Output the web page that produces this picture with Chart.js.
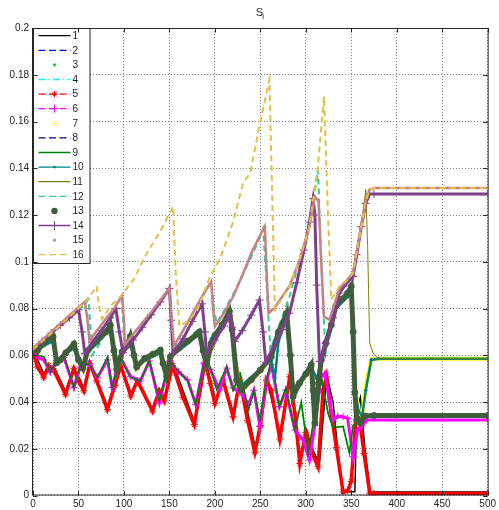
<!DOCTYPE html>
<html>
<head>
<meta charset="utf-8">
<title>S_i</title>
<script src="https://cdn.jsdelivr.net/npm/chart.js@4.4.1/dist/chart.umd.min.js"></script>
<style>
  html, body { margin: 0; padding: 0; background: #fff; }
  canvas { display: block; }
</style>
</head>
<body>
<canvas id="chart" width="499" height="510"></canvas>
<script>
// S_i — 16 series as [t, value] breakpoints.

const seriesNames = ["1", "2", "3", "4", "5", "6", "7", "8", "9", "10", "11", "12", "13", "14", "15", "16"];
const xTicks = [0, 50, 100, 150, 200, 250, 300, 350, 400, 450, 500];
const yTicks = [0, 0.02, 0.04, 0.06, 0.08, 0.1, 0.12, 0.14, 0.16, 0.18, 0.2];

const s1 = [[0,0.0625],[12,0.052],[23,0.055],[36,0.0445],[45,0.055],[56,0.046],[63,0.057],[82,0.038],[96,0.0565],[108,0.0435],[115,0.05],[131,0.037],[139,0.0455],[145,0.0415],[154,0.0565],[178,0.031],[190,0.0575],[201,0.0405],[209,0.05],[221,0.0345],[228,0.05],[245,0.0195],[257,0.05],[272,0.025],[283,0.051],[294,0.015],[301,0.028],[306,0.021],[315,0.0135],[323,0.0515],[330,0.04],[335,0.02],[341,0.0016],[354,0.0016],[356,0.037],[360,0.042],[365,0.02],[371,0.0015],[500,0.0015]];
const s2 = [[0,0.0625],[6,0.0585],[12,0.058],[19,0.053],[26,0.0575],[34,0.059],[45,0.0465],[52,0.055],[61,0.056],[71,0.051],[82,0.058],[87,0.0465],[96,0.059],[107,0.051],[118,0.0492],[128,0.0575],[139,0.04],[150,0.0575],[160,0.053],[170,0.0495],[179,0.0392],[188,0.0565],[195,0.054],[205,0.0455],[213,0.0545],[220,0.046],[231,0.0432],[237,0.0392],[243,0.045],[249.5,0.0298],[257,0.049],[262,0.0558],[271,0.0382],[278,0.045],[288,0.0282],[297,0.024],[304,0.0155],[310,0.03],[317,0.0508],[321,0.052],[326,0.04],[330,0.0325],[341,0.0338],[346,0.033],[352,0.017],[357,0.028],[362,0.03],[367,0.0322],[500,0.0322]];
const s3 = [[0,0.0625],[6,0.0598],[12,0.0592],[19,0.0528],[26,0.0577],[34,0.0598],[45,0.0463],[52,0.0555],[61,0.0563],[71,0.0507],[82,0.0592],[87,0.0463],[96,0.0592],[107,0.0507],[118,0.0491],[128,0.0577],[139,0.0405],[150,0.0577],[159,0.0535],[170,0.0491],[179,0.0391],[188,0.0563],[195,0.0549],[202,0.0453],[213,0.055],[220,0.0451],[228,0.0519],[237,0.0367],[243,0.0449],[249.5,0.0324],[257,0.0493],[262,0.0579],[271,0.0381],[278,0.0459],[288,0.0281],[295,0.0399],[302.6,0.0181],[310,0.0349],[317,0.0507],[324.5,0.0353],[330,0.0291],[341,0.0296],[348,0.0181],[352,0.0299],[357.5,0.0309],[362,0.0329],[368,0.0341],[500,0.0341]];
const s4 = [[0,0.0625],[12,0.0638],[22,0.0658],[26,0.0582],[45,0.0628],[50,0.0582],[55,0.0562],[60,0.0608],[85,0.0708],[92,0.0562],[107,0.0658],[114,0.0562],[140,0.0608],[147,0.0522],[151,0.0588],[183,0.0688],[187,0.0632],[191,0.0582],[196,0.0668],[216,0.0768],[224,0.0522],[229,0.0472],[250,0.0538],[262,0.0578],[266,0.0502],[270,0.0658],[279,0.0758],[285,0.0452],[293,0.0488],[306,0.0548],[312,0.0502],[317,0.0568],[322,0.0638],[333,0.0798],[346,0.0848],[350,0.0878],[354,0.0452],[358,0.0362],[362,0.0342],[366,0.0452],[372,0.0582],[380,0.0585],[500,0.0585]];
const s5 = [[0,0.0614],[5,0.055],[11.8,0.0506],[17,0.0556],[23,0.0534],[35.7,0.0433],[44.9,0.0542],[50,0.049],[55.9,0.0448],[62.6,0.0564],[70,0.049],[81.7,0.0368],[90,0.047],[96.4,0.0556],[107.5,0.0426],[114.8,0.0491],[131.4,0.0361],[138.7,0.0448],[144.3,0.0404],[153.5,0.0556],[165,0.042],[177.4,0.0303],[189,0.057],[195,0.048],[200,0.0394],[209,0.0494],[220,0.0337],[227.5,0.0494],[236,0.032],[244,0.0185],[250,0.03],[256.8,0.0494],[262,0.045],[271.4,0.0242],[282.4,0.0508],[288,0.035],[293.4,0.0137],[300,0.027],[305,0.02],[313.5,0.0123],[319,0.045],[322.7,0.0508],[328,0.035],[333.6,0.0205],[341,0.0015],[346,0.002],[350,0.006],[355.6,0.0366],[359,0.033],[364,0.018],[370.3,0.001],[375,0.0009],[500,0.0009]];
const s6 = [[0,0.0625],[6,0.059],[12,0.058],[19,0.0527],[26,0.0578],[34,0.059],[45,0.0462],[52,0.055],[61,0.0564],[71,0.0506],[82,0.058],[87,0.0462],[96,0.0593],[107,0.051],[118,0.049],[128,0.0575],[139,0.0397],[150,0.0575],[160,0.053],[170,0.0495],[179,0.039],[188,0.0565],[195,0.054],[205,0.0452],[213,0.0545],[220,0.046],[231,0.043],[237,0.039],[243,0.045],[249.5,0.0295],[257,0.049],[262,0.056],[271,0.038],[278,0.045],[288,0.028],[297,0.0238],[304,0.0152],[310,0.03],[317,0.051],[321,0.0523],[326,0.04],[330,0.0323],[335,0.034],[341,0.0337],[346,0.033],[352,0.0166],[357,0.028],[362,0.03],[367,0.0323],[500,0.0323]];
const s7 = [[0,0.0625],[5,0.0615],[12,0.065],[22,0.0675],[26,0.0563],[30,0.0575],[36,0.0605],[45,0.0643],[50,0.0575],[55,0.054],[60,0.0615],[70,0.0655],[80,0.0695],[85,0.0723],[89,0.0615],[92,0.0535],[98,0.061],[103,0.0635],[107,0.0675],[111,0.0595],[114,0.0545],[123,0.0582],[132,0.06],[140,0.0617],[143,0.056],[147,0.0505],[151,0.0589],[160,0.0625],[170,0.0655],[180,0.0685],[183,0.0695],[187,0.0615],[191,0.0555],[196,0.0645],[200,0.068],[208,0.0725],[216,0.0782],[219,0.0705],[224,0.0489],[229,0.0446],[240,0.049],[250,0.0532],[262,0.0589],[270,0.0695],[279,0.0775],[283,0.0595],[286,0.0418],[293,0.0475],[300,0.0515],[306,0.0554],[308,0.0445],[310,0.0305],[314,0.0475],[317,0.0575],[322,0.0647],[328,0.0725],[333,0.0805],[340,0.0835],[346,0.0861],[350,0.0889],[354,0.046],[358,0.036],[362,0.034],[366,0.047],[372,0.0583],[380,0.0585],[500,0.0585]];
const s8 = [[0,0.0625],[5,0.062],[12,0.0655],[22,0.068],[26,0.0568],[30,0.058],[36,0.061],[45,0.0648],[50,0.058],[55,0.0545],[60,0.062],[70,0.066],[80,0.07],[85,0.0728],[89,0.062],[92,0.054],[98,0.0615],[103,0.064],[107,0.068],[111,0.06],[114,0.055],[123,0.0587],[132,0.0605],[140,0.0622],[143,0.0565],[147,0.051],[151,0.0594],[160,0.063],[170,0.066],[180,0.069],[183,0.07],[187,0.062],[191,0.056],[196,0.065],[200,0.0685],[208,0.073],[216,0.0787],[219,0.071],[224,0.0494],[229,0.0451],[240,0.0495],[250,0.0537],[262,0.0594],[270,0.07],[279,0.078],[283,0.06],[286,0.0423],[293,0.048],[300,0.052],[306,0.0559],[308,0.045],[310,0.031],[314,0.048],[317,0.058],[322,0.0652],[328,0.073],[333,0.081],[340,0.084],[346,0.0866],[350,0.0894],[352,0.07],[354,0.044],[356,0.0324],[360,0.031],[365,0.034],[375,0.0342],[500,0.0342]];
const s9 = [[0,0.0625],[6,0.06],[12,0.0593],[19,0.0527],[26,0.0578],[34,0.06],[45,0.0462],[52,0.0556],[61,0.0564],[71,0.0506],[82,0.0593],[87,0.0462],[96,0.0593],[107,0.0506],[118,0.049],[128,0.0578],[139,0.0404],[150,0.0578],[159,0.0535],[170,0.049],[179,0.039],[188,0.0564],[195,0.055],[202,0.0452],[213,0.0551],[220,0.045],[228,0.052],[237,0.0366],[243,0.045],[249.5,0.0323],[257,0.0494],[262,0.058],[271,0.038],[278,0.046],[288,0.028],[295,0.04],[302.6,0.018],[310,0.035],[317,0.0508],[324.5,0.0352],[330,0.029],[341,0.0295],[348,0.018],[352,0.03],[357.5,0.031],[362,0.033],[368,0.034],[500,0.0342]];
const s10 = [[0,0.0625],[12,0.064],[22,0.066],[26,0.058],[45,0.063],[50,0.058],[55,0.056],[60,0.061],[85,0.071],[92,0.056],[107,0.066],[114,0.056],[140,0.061],[147,0.052],[151,0.059],[183,0.069],[187,0.063],[191,0.058],[196,0.067],[216,0.077],[224,0.052],[229,0.047],[250,0.054],[262,0.058],[266,0.05],[270,0.066],[279,0.076],[285,0.045],[293,0.049],[306,0.055],[312,0.05],[317,0.057],[322,0.064],[333,0.08],[346,0.085],[350,0.088],[354,0.045],[358,0.036],[362,0.034],[366,0.045],[372,0.058],[380,0.0585],[500,0.0585]];
const s11 = [[0,0.0625],[22,0.067],[26,0.057],[45,0.064],[55,0.055],[60,0.061],[85,0.072],[92,0.055],[107,0.067],[114,0.055],[140,0.062],[147,0.052],[151,0.059],[183,0.07],[191,0.057],[216,0.078],[229,0.046],[262,0.059],[279,0.077],[286,0.043],[306,0.055],[310,0.04],[317,0.057],[322,0.065],[337,0.0866],[352,0.0937],[361,0.115],[366,0.131],[368,0.1065],[370.3,0.0652],[374,0.0609],[380,0.0585],[500,0.0585]];
const s12 = [[0,0.0625],[20,0.069],[40,0.076],[55,0.081],[61,0.084],[63,0.072],[65,0.06],[75,0.066],[85,0.0745],[97,0.0857],[99,0.075],[101,0.063],[110,0.069],[120,0.0738],[130,0.0785],[140,0.0835],[150,0.0886],[152,0.075],[154,0.0622],[165,0.0705],[175,0.0775],[185,0.0845],[196,0.0915],[199,0.08],[202,0.0737],[210,0.079],[220,0.086],[230,0.094],[240,0.102],[248,0.109],[253,0.114],[257,0.09],[261,0.0623],[270,0.072],[282,0.085],[293,0.1005],[304,0.115],[308,0.126],[313.5,0.1393],[316,0.11],[319,0.08],[322,0.061],[328,0.072],[333,0.0805],[340,0.0835],[346,0.086],[350,0.0889],[352,0.07],[354,0.044],[356,0.0325],[360,0.031],[365,0.034],[375,0.0341],[500,0.0341]];
const s13 = [[0,0.0625],[5,0.062],[12,0.0655],[22,0.068],[26,0.0568],[30,0.058],[36,0.061],[45,0.0648],[50,0.058],[55,0.0545],[60,0.062],[70,0.066],[80,0.07],[85,0.0728],[89,0.062],[92,0.054],[98,0.0615],[103,0.064],[107,0.068],[111,0.06],[114,0.055],[123,0.0587],[132,0.0605],[140,0.0622],[143,0.0565],[147,0.051],[151,0.0594],[160,0.063],[170,0.066],[180,0.069],[183,0.07],[187,0.062],[191,0.056],[196,0.065],[200,0.0685],[208,0.073],[216,0.0787],[219,0.071],[224,0.0494],[229,0.0451],[240,0.0495],[250,0.0537],[262,0.0594],[270,0.07],[279,0.078],[283,0.06],[286,0.0423],[293,0.048],[300,0.052],[306,0.0559],[308,0.045],[310,0.031],[314,0.048],[317,0.058],[322,0.0652],[328,0.073],[333,0.081],[340,0.084],[346,0.0866],[350,0.0894],[352,0.07],[354,0.044],[356,0.0324],[360,0.031],[365,0.034],[375,0.0342],[500,0.0342]];
const s14 = [[0,0.0626],[10,0.066],[20,0.0695],[30,0.0728],[40,0.076],[50,0.0794],[54,0.07],[57,0.0608],[65,0.0655],[75,0.0705],[85,0.076],[91,0.08],[95,0.07],[99,0.061],[110,0.0665],[120,0.0718],[130,0.0773],[140,0.0828],[150,0.0886],[152,0.075],[154,0.0608],[165,0.067],[175,0.0745],[186,0.082],[189,0.07],[191,0.061],[200,0.0665],[210,0.0725],[216,0.077],[219,0.072],[222,0.066],[230,0.0705],[240,0.0772],[249,0.0836],[253,0.07],[256,0.057],[265,0.064],[274,0.071],[282,0.078],[290,0.091],[298,0.105],[304,0.117],[308,0.127],[310,0.12],[312,0.09],[315,0.0574],[318,0.06],[322,0.0652],[330,0.076],[337,0.0866],[345,0.091],[352,0.0937],[356,0.103],[361,0.115],[366,0.125],[370,0.129],[375,0.129],[500,0.129]];
const s15 = [[0,0.063],[10,0.0665],[20,0.07],[30,0.0735],[40,0.077],[50,0.0805],[57,0.083],[60,0.075],[62,0.066],[70,0.0705],[80,0.0755],[90,0.0805],[98,0.0857],[100,0.075],[101,0.0645],[110,0.069],[120,0.0738],[130,0.0785],[140,0.0835],[150,0.0886],[152,0.078],[155,0.064],[165,0.0705],[175,0.0775],[185,0.0845],[196,0.0915],[198,0.08],[200,0.0723],[210,0.078],[220,0.085],[230,0.094],[240,0.1035],[248,0.11],[255,0.1151],[257,0.095],[259,0.078],[266,0.0805],[274,0.085],[282,0.0895],[293,0.1005],[304,0.115],[310,0.1279],[314,0.126],[317,0.1],[320,0.0765],[326,0.0752],[337,0.0885],[345,0.092],[352,0.0955],[361,0.1155],[366,0.126],[370,0.1308],[375,0.1315],[500,0.1315]];
const s16 = [[0,0.0625],[25,0.071],[50,0.08],[62,0.085],[70,0.0895],[73,0.08],[76,0.0755],[85,0.081],[96,0.085],[111,0.0926],[125,0.1036],[140,0.113],[154,0.1236],[157,0.095],[161,0.0725],[170,0.0745],[180,0.0787],[194,0.093],[206,0.1015],[220,0.117],[231,0.1336],[239,0.138],[249,0.158],[260,0.178],[263,0.13],[266,0.0795],[274,0.0845],[282,0.0894],[293,0.1008],[304,0.115],[308,0.1265],[313,0.1393],[320,0.1707],[324,0.125],[328,0.0837],[337,0.0894],[345,0.092],[352,0.0951],[361,0.115],[366,0.126],[370,0.1308],[375,0.1315],[500,0.1315]];

const allSeries = [s1, s2, s3, s4, s5, s6, s7, s8, s9, s10, s11, s12, s13, s14, s15, s16];

const FONT = '"Liberation Sans", Arial, Helvetica, sans-serif';
const INK = "#262626";

// how each series is drawn in the plot, and how its legend sample looks
const styles = [
  { color: "#000000", width: 1.5, lg: { dash: [] } },
  { color: "#0000ff", width: 1, dash: [6, 4], lg: { dash: [7, 3.5] } },
  { color: "#00e000", width: 1.5, lg: { line: false, marker: "circle", r: 1.6 } },
  { color: "#00ffff", width: 1, dash: [7, 3, 2, 3], lg: { dash: [7, 3, 1.5, 3] } },
  { color: "#ff0000", width: 3.5, marker: "star", r: 3.5, lg: { dash: [7, 3.5], marker: "star", r: 3 } },
  { color: "#ff00ff", width: 3, marker: "cross", r: 3.5, lg: { dash: [7, 3.5], marker: "cross", r: 4 } },
  { color: "#ffff00", width: 4, lg: { line: false, marker: "crossRot", r: 3 } },
  { color: "#00007f", width: 1, dash: [6, 4], lg: { dash: [7, 3.5] } },
  { color: "#008000", width: 1.5, lg: { dash: [] } },
  { color: "#008080", width: 2.5, marker: "circle", r: 1.3, lg: { dash: [], marker: "circle", r: 1.3 } },
  { color: "#808000", width: 1, lg: { dash: [] } },
  { color: "#33cc99", width: 2, dash: [6, 4], lg: { dash: [7, 3.5] } },
  { color: "#3f5f3c", width: 5, marker: "circle", r: 3, lg: { line: false, marker: "circle", r: 3.2 } },
  { color: "#7e3f8c", width: 3, marker: "cross", r: 4, lg: { dash: [], marker: "cross", r: 4.5 } },
  { color: "#c48383", width: 2.5, lg: { line: false, marker: "circle", r: 1.6 } },
  { color: "#e5bf45", width: 2, dash: [6, 4], lg: { dash: [7, 3.5] } },
];

const datasets = allSeries.map((pts, i) => {
  const st = styles[i];
  return {
    label: seriesNames[i],
    data: pts.map(([x, y]) => ({ x, y })),
    borderColor: st.color,
    backgroundColor: st.color,
    borderWidth: st.width,
    borderDash: st.dash || [],
    pointStyle: st.marker || "circle",
    pointRadius: st.marker ? st.r : 0,
    pointBorderWidth: 1,
    pointBorderColor: st.color,
    pointBackgroundColor: st.color,
    tension: 0,
    fill: false,
    order: allSeries.length - i, // later series on top, as in the original
  };
});

function drawMarker(ctx, kind, x, y, r, color) {
  ctx.save();
  ctx.strokeStyle = color;
  ctx.fillStyle = color;
  ctx.lineWidth = 1;
  ctx.setLineDash([]);
  ctx.beginPath();
  if (kind === "circle") {
    ctx.arc(x, y, r, 0, Math.PI * 2);
    ctx.fill();
  } else {
    if (kind === "cross" || kind === "star") {
      ctx.moveTo(x - r, y); ctx.lineTo(x + r, y);
      ctx.moveTo(x, y - r); ctx.lineTo(x, y + r);
    }
    if (kind === "crossRot" || kind === "star") {
      const d = r * 0.75;
      ctx.moveTo(x - d, y - d); ctx.lineTo(x + d, y + d);
      ctx.moveTo(x - d, y + d); ctx.lineTo(x + d, y - d);
    }
    ctx.stroke();
  }
  ctx.restore();
}

const background = {
  id: "background",
  beforeDraw(chart) {
    const { ctx, width, height } = chart;
    ctx.save();
    ctx.fillStyle = "#fff";
    ctx.fillRect(0, 0, width, height);
    ctx.restore();
  },
};

// legend box in the upper left corner, inside the axes
const legendBox = {
  id: "legendBox",
  afterDatasetsDraw(chart) {
    const { ctx, chartArea: a } = chart;
    const w = 56.5, h = 235, row = 14.6;
    ctx.save();
    ctx.fillStyle = "#fff";
    ctx.fillRect(a.left, a.top, w, h);
    ctx.strokeStyle = INK;
    ctx.lineWidth = 1;
    ctx.strokeRect(a.left + 0.5, a.top + 0.5, w, h);
    ctx.font = `10px ${FONT}`;
    ctx.textBaseline = "middle";
    ctx.textAlign = "left";
    chart.data.datasets.forEach((ds, i) => {
      const lg = styles[i].lg;
      const y = a.top + 7.7 + i * row;
      const x0 = a.left + 5.5, x1 = a.left + 37.5, xm = (x0 + x1) / 2;
      if (lg.line !== false) {
        ctx.strokeStyle = ds.borderColor;
        ctx.lineWidth = i === 13 ? 1.5 : 1.3;
        ctx.setLineDash(lg.dash || []);
        ctx.beginPath();
        ctx.moveTo(x0, y);
        ctx.lineTo(x1, y);
        ctx.stroke();
        ctx.setLineDash([]);
      }
      if (lg.marker) drawMarker(ctx, lg.marker, xm, y, lg.r, ds.borderColor);
      ctx.fillStyle = INK;
      ctx.fillText(ds.label, a.left + 39.5, y + 0.5);
    });
    ctx.restore();
  },
};

// axes box, inner tick marks and the S_i title
const frame = {
  id: "frame",
  afterDraw(chart) {
    const { ctx, chartArea: a, scales } = chart;
    ctx.save();
    ctx.strokeStyle = INK;
    ctx.lineWidth = 1;
    ctx.strokeRect(a.left - 0.5, a.top + 0.5, a.right - a.left + 1, a.bottom - a.top - 1);
    const t = 4.5;
    ctx.beginPath();
    xTicks.forEach((v) => {
      const x = Math.round(scales.x.getPixelForValue(v)) + 0.5;
      ctx.moveTo(x, a.bottom); ctx.lineTo(x, a.bottom - t);
      ctx.moveTo(x, a.top); ctx.lineTo(x, a.top + t);
    });
    yTicks.forEach((v) => {
      const y = Math.round(scales.y.getPixelForValue(v)) + 0.5;
      ctx.moveTo(a.left, y); ctx.lineTo(a.left + t, y);
      ctx.moveTo(a.right, y); ctx.lineTo(a.right - t, y);
    });
    ctx.stroke();

    const cx = (a.left + a.right) / 2;
    ctx.fillStyle = INK;
    ctx.textBaseline = "alphabetic";
    ctx.textAlign = "left";
    ctx.font = `11px ${FONT}`;
    ctx.fillText("S", cx - 4.5, 15.5);
    ctx.font = `8px ${FONT}`;
    ctx.fillText("i", cx + 2, 18.5);
    ctx.restore();
  },
};

const tickFont = { family: FONT, size: 10 };

new Chart(document.getElementById("chart"), {
  type: "line",
  data: { datasets },
  options: {
    responsive: false,
    animation: false,
    layout: { padding: { left: 0, top: 28, right: 11, bottom: 0 } },
    plugins: { legend: { display: false }, tooltip: { enabled: false }, title: { display: false } },
    scales: {
      x: {
        type: "linear",
        min: 0,
        max: 500,
        afterBuildTicks: (s) => { s.ticks = xTicks.map((value) => ({ value })); },
        afterFit: (s) => { s.height = 14.5; },
        ticks: { font: tickFont, color: INK, padding: 3, maxRotation: 0, autoSkip: false, callback: (v) => String(v) },
        grid: { color: "rgba(0,0,0,0.45)", lineWidth: 1, drawTicks: false },
        border: { display: false, dash: [1, 2] },
      },
      y: {
        type: "linear",
        min: 0,
        max: 0.2,
        afterBuildTicks: (s) => { s.ticks = yTicks.map((value) => ({ value })); },
        afterFit: (s) => { s.width = 33; },
        ticks: { font: tickFont, color: INK, padding: 4, autoSkip: false, callback: (v) => String(+v.toFixed(2)) },
        grid: { color: "rgba(0,0,0,0.45)", lineWidth: 1, drawTicks: false },
        border: { display: false, dash: [1, 2] },
      },
    },
  },
  plugins: [background, legendBox, frame],
});
</script>
</body>
</html>
